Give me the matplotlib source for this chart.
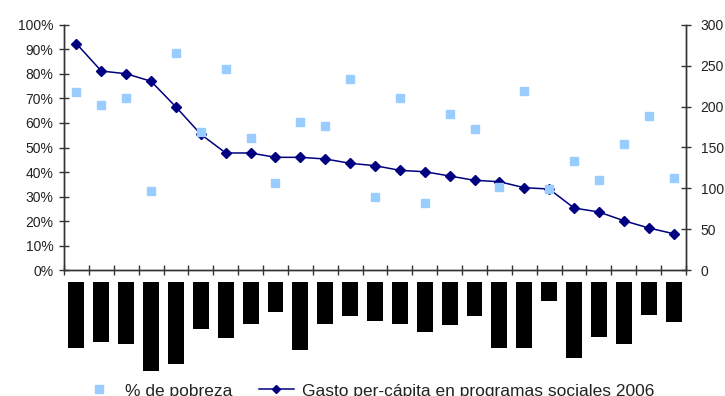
import matplotlib
matplotlib.use('Agg')
import matplotlib.pyplot as plt
from matplotlib.ticker import FuncFormatter
from matplotlib.lines import Line2D

plt.rcParams['font.family'] = ['Liberation Sans', 'DejaVu Sans']

# Datos (25 departamentos, nombres ocultos en el original)
pobreza = [72.6, 67.3, 70.3, 32.3, 88.4, 56.4, 82.1, 53.9, 35.7, 60.4,
           58.6, 78.0, 29.8, 70.3, 27.5, 63.8, 57.4, 34.0, 73.1, 33.0,
           44.5, 36.9, 51.5, 62.7, 37.5]
gasto = [276.8, 243.4, 240.1, 230.9, 199.5, 166.1, 143.3, 143.3, 138.0, 138.0,
         136.0, 130.7, 127.8, 122.1, 120.4, 115.2, 109.9, 108.2, 100.9, 99.3,
         76.1, 71.2, 60.6, 51.7, 44.7]
# bloques negros bajo el eje (etiquetas tapadas), largo en px
barras = [66, 60, 62, 89, 82, 47, 56, 42, 30, 68, 42, 34, 39, 42, 50,
          43, 34, 66, 66, 19, 76, 55, 62, 33, 40]

W, H = 725, 396
fig = plt.figure(figsize=(W / 100, H / 100), dpi=100)

x0, x1 = 64, 686
ytop, ybot = 24.7, 270.3
ax = fig.add_axes([x0 / W, 1 - ybot / H, (x1 - x0) / W, (ybot - ytop) / H])
ax2 = ax.twinx()

n = len(pobreza)
xs = list(range(n))

ax.plot(xs, pobreza, linestyle='none', marker='s', markersize=5.3,
        color='#99CCFF', zorder=2)
ax2.plot(xs, gasto, color='#000080', linewidth=1.1, marker='D',
         markersize=5.5, zorder=3)

ax.set_xlim(-0.5, n - 0.5)
ax.set_ylim(0, 100)
ax2.set_ylim(0, 300)
ax.set_yticks(range(0, 101, 10))
ax.yaxis.set_major_formatter(FuncFormatter(lambda v, p: f'{v:.0f}%'))
ax2.set_yticks(range(0, 301, 50))
ax.set_xticks([i - 0.5 for i in range(n + 1)])
ax.set_xticklabels([])

for a in (ax, ax2):
    a.spines['top'].set_visible(False)
    for s in a.spines.values():
        s.set_linewidth(1.0)
        s.set_color('#333333')
    a.tick_params(direction='inout', length=7, width=1.0, color='#333333',
                  labelsize=10, labelcolor='#222222', pad=4)
ax2.tick_params(pad=7)
ax.set_zorder(ax2.get_zorder() + 1)
ax.patch.set_visible(False)

# bloques negros
bt, bb = 282, 382
axb = fig.add_axes([x0 / W, 1 - bb / H, (x1 - x0) / W, (bb - bt) / H])
axb.bar(xs, [-b for b in barras], width=0.64, color='black')
axb.set_xlim(-0.5, n - 0.5)
axb.set_ylim(-(bb - bt), 0)
axb.axis('off')

handles = [
    Line2D([], [], linestyle='none', marker='s', markersize=5.3, color='#99CCFF'),
    Line2D([], [], color='#000080', linewidth=1.1, marker='D', markersize=4.5),
]
fig.legend(handles, ['% de pobreza', 'Gasto per-cápita en programas sociales 2006'],
           loc='center left', bbox_to_anchor=(82 / W, 1 - 391 / H), ncol=2,
           frameon=False, fontsize=12.5, handlelength=2.0, columnspacing=1.5,
           handletextpad=0.5, borderpad=0, borderaxespad=0,
           labelcolor='#222222')

fig.savefig('out.png', dpi=100)
